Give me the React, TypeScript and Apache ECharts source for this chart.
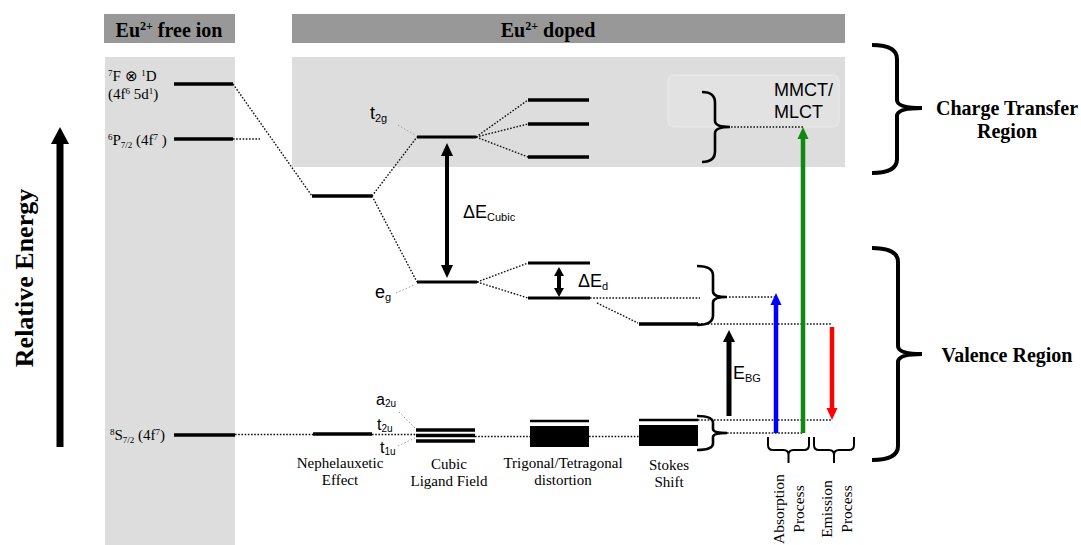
import React, { useEffect, useRef } from "react";
import * as echarts from "echarts";

const SERIF = "'Liberation Serif', 'Times New Roman', serif";
const SANS = "'Liberation Sans', Arial, Helvetica, sans-serif";

// Diagram units: x = horizontal position across the diagram, e = relative energy (0 = bottom, 545 = top)

const panels = [
  { name: "free ion header", x1: 104, x2: 235, top: 531, bottom: 502, kind: "header" },
  { name: "doped header", x1: 292, x2: 845, top: 531, bottom: 502, kind: "header" },
  { name: "free ion column", x1: 105, x2: 235, top: 488, bottom: 0, kind: "band" },
  { name: "charge transfer band", x1: 292, x2: 845, top: 488, bottom: 378, kind: "band" },
  { name: "MMCT box", x1: 668, x2: 839, top: 470, bottom: 418, kind: "box" },
];

const levels = [
  { name: "7F x 1D (4f6 5d1)", x1: 174, x2: 233, e: 461, kind: "main" },
  { name: "6P7/2 (4f7)", x1: 174, x2: 233, e: 406, kind: "main" },
  { name: "8S7/2 (4f7)", x1: 174, x2: 235, e: 110, kind: "main" },
  { name: "5d nephelauxetic", x1: 312, x2: 372, e: 349, kind: "main" },
  { name: "4f nephelauxetic", x1: 313, x2: 372, e: 111, kind: "main" },
  { name: "t2g", x1: 417, x2: 476, e: 408, kind: "mid" },
  { name: "eg", x1: 417, x2: 477, e: 263, kind: "mid" },
  { name: "a2u", x1: 416, x2: 475, e: 115, kind: "stripe" },
  { name: "t2u", x1: 416, x2: 475, e: 109.5, kind: "stripe" },
  { name: "t1u", x1: 416, x2: 475, e: 104, kind: "stripe" },
  { name: "t2g split 1", x1: 528, x2: 589, e: 445, kind: "main" },
  { name: "t2g split 2", x1: 528, x2: 589, e: 421, kind: "main" },
  { name: "t2g split 3", x1: 528, x2: 589, e: 388, kind: "main" },
  { name: "eg split 1", x1: 528, x2: 590, e: 282, kind: "mid" },
  { name: "eg split 2", x1: 528, x2: 590, e: 247, kind: "mid" },
  { name: "4f distorted top", x1: 530, x2: 589, e: 124, kind: "thin" },
  { name: "5d relaxed (Stokes)", x1: 639, x2: 698, e: 221, kind: "main" },
  { name: "4f Stokes top", x1: 639, x2: 698, e: 125, kind: "thin" },
];

const blocks = [
  { name: "4f distorted manifold", x1: 530, x2: 589, top: 119, bottom: 98 },
  { name: "4f Stokes manifold", x1: 639, x2: 698, top: 120, bottom: 99 },
];

const connectors = [
  [233, 406, 260, 406],
  [233, 461, 312, 349],
  [235, 110.5, 313, 110.5],
  [372, 349, 417, 408],
  [372, 349, 417, 263],
  [372, 110.5, 416, 110.5],
  [476, 408, 528, 445],
  [476, 408, 528, 421],
  [476, 408, 528, 388],
  [477, 263, 528, 282],
  [477, 263, 528, 247],
  [475, 108.5, 530, 108.5],
  [589, 108.5, 639, 108.5],
  [590, 247, 700, 247],
  [597, 242, 638, 222],
  [729, 248, 776, 248],
  [698, 221, 832, 221],
  [698, 125, 832, 125],
  [727, 112, 803, 112],
  [731, 418, 803, 418],
];

const leaders = [
  [398, 420, 415, 410],
  [396, 252, 414, 260],
  [399, 133, 415, 117],
  [398, 99, 415, 107],
];

const arrows = [
  { name: "relative energy", x: 60, from: 98, to: 418, kind: "axis", color: "#000000" },
  { name: "dE cubic", x: 447, from: 402, to: 267, kind: "gapDouble", color: "#000000" },
  { name: "dE d", x: 559, from: 278, to: 248, kind: "gapSmall", color: "#000000" },
  { name: "E BG", x: 729, from: 129, to: 215, kind: "gap", color: "#000000" },
  { name: "absorption", x: 776, from: 112, to: 252, kind: "transition", color: "#0000ff" },
  { name: "MMCT/MLCT", x: 803, from: 112, to: 418, kind: "transition", color: "#118811" },
  { name: "emission", x: 832, from: 218, to: 125, kind: "transition", color: "#ff0000" },
];

const bracesRight = [
  { name: "charge transfer region", xl: 872, xs: 897, xt: 922, top: 500, bottom: 372, tip: 437 },
  { name: "valence region", xl: 872, xs: 898, xt: 922, top: 297, bottom: 85, tip: 191 },
  { name: "MMCT levels", xl: 702, xs: 715, xt: 730, top: 453, bottom: 383, tip: 418 },
  { name: "5d levels", xl: 697, xs: 713, xt: 727, top: 279, bottom: 220, tip: 248 },
  { name: "4f levels", xl: 697, xs: 713, xt: 727, top: 129, bottom: 95, tip: 112 },
];

const bracesDown = [
  { name: "absorption process", xl: 768, xr: 809, top: 108, mid: 95, tip: 82 },
  { name: "emission process", xl: 814, xr: 854, top: 108, mid: 95, tip: 82 },
];

const labels = [
  { x: 169, e: 515, text: "{n|Eu}{sup|2+}{n| free ion}", kind: "header" },
  { x: 548, e: 515, text: "{n|Eu}{sup|2+}{n| doped}", kind: "header" },
  { x: 108, e: 469, text: "{sup|7}{n|F ⊗ }{sup|1}{n|D}", kind: "term" },
  { x: 108, e: 451, text: "{n|(4f}{sup|6}{n| 5d}{sup|1}{n|)}", kind: "term" },
  { x: 108, e: 405, text: "{sup|6}{n|P}{sub|7/2}{n| (4f}{sup|7}{n| )}", kind: "term" },
  { x: 110, e: 110, text: "{sup|8}{n|S}{sub|7/2}{n| (4f}{sup|7}{n|)}", kind: "term" },
  { x: 370, e: 432, text: "{n|t}{sub|2g}", kind: "orbital" },
  { x: 375, e: 253, text: "{n|e}{sub|g}", kind: "orbital" },
  { x: 463, e: 333, text: "{n|ΔE}{sub|Cubic}", kind: "orbital" },
  { x: 578, e: 264, text: "{n|ΔE}{sub|d}", kind: "orbital" },
  { x: 733, e: 172, text: "{n|E}{sub|BG}", kind: "orbital" },
  { x: 376, e: 146, text: "{n|a}{sub|2u}", kind: "orbitalSmall" },
  { x: 377, e: 121, text: "{n|t}{sub|2u}", kind: "orbitalSmall" },
  { x: 380, e: 98, text: "{n|t}{sub|1u}", kind: "orbitalSmall" },
  { x: 774, e: 444, text: "MMCT/\nMLCT", kind: "ct" },
  { x: 340, e: 73.5, text: "Nephelauxetic\nEffect", kind: "stage" },
  { x: 449, e: 73, text: "Cubic\nLigand Field", kind: "stage" },
  { x: 563, e: 73.5, text: "Trigonal/Tetragonal\ndistortion", kind: "stage" },
  { x: 669, e: 71.5, text: "Stokes\nShift", kind: "stage" },
  { x: 1007, e: 425.5, text: "Charge Transfer\nRegion", kind: "region" },
  { x: 1007, e: 190, text: "Valence Region", kind: "region" },
  { x: 24, e: 267, text: "Relative Energy", kind: "axis" },
  { x: 788, e: 36, text: "Absorption\nProcess", kind: "process" },
  { x: 836, e: 36, text: "Emission\nProcess", kind: "process" },
];

// ---------- styles ----------
const panelStyle: any = {
  header: { fill: "#989898" },
  band: { fill: "#dddddd" },
  box: { fill: "#e2e2e2", stroke: "#ebebeb", r: 6 },
};
const levelWidth: any = { main: 3.5, mid: 3, stripe: 3.5, thin: 2.5 };
const arrowStyle: any = {
  axis: { w: 7, hw: 18, hl: 17, double: false },
  gapDouble: { w: 4, hw: 12, hl: 13, double: true },
  gapSmall: { w: 4, hw: 10, hl: 9, double: true },
  gap: { w: 5, hw: 12, hl: 12, double: false },
  transition: { w: 4.5, hw: 11, hl: 12, double: false },
};

function rich(family: string, S: number, weight: string, subPad: number) {
  const s = Math.round(S * 0.62);
  const base = { fontFamily: family, fontWeight: weight, fill: "#000", color: "#000", verticalAlign: "top" };
  return {
    n: { ...base, fontSize: S, lineHeight: S, padding: [0, 0, 0, 0] },
    sup: { ...base, fontSize: s, lineHeight: s, padding: [0, 0, 0, 0] },
    sub: { ...base, fontSize: s, lineHeight: s, padding: [Math.round(S * subPad), 0, 0, 0] },
  };
}

const labelStyle: any = {
  header: { rich: rich(SERIF, 20, "bold", 0.5), align: "center" },
  term: { rich: rich(SERIF, 15, "normal", 0.5), align: "left" },
  orbital: { rich: rich(SANS, 18, "normal", 0.45), align: "left" },
  orbitalSmall: { rich: rich(SANS, 16, "normal", 0.45), align: "left" },
  ct: { family: SANS, size: 18, weight: "normal", lh: 22, align: "left" },
  stage: { family: SERIF, size: 15, weight: "normal", lh: 17, align: "center" },
  region: { family: SERIF, size: 20, weight: "bold", lh: 23, align: "center" },
  axis: { family: SERIF, size: 26, weight: "bold", lh: 30, align: "center", rot: Math.PI / 2 },
  process: { family: SERIF, size: 15.5, weight: "normal", lh: 20, align: "center", rot: Math.PI / 2 },
};

function buildOption() {
  const custom = (name: string, arr: any[], z: number, toPoint: (d: any) => number[], render: any) => ({
    type: "custom",
    name,
    coordinateSystem: "cartesian2d",
    silent: true,
    z,
    clip: false,
    data: arr.map(toPoint),
    encode: { x: 0, y: 1 },
    renderItem: render,
  });

  return {
    animation: false,
    grid: { left: 0, top: 0, right: 0, bottom: 0 },
    xAxis: { type: "value", min: 0, max: 1081, show: false },
    yAxis: { type: "value", min: 0, max: 545, show: false },
    series: [
      custom("panels", panels, 1, (p) => [p.x1, p.top], (params: any, api: any) => {
        const p = panels[params.dataIndex];
        const st = panelStyle[p.kind];
        const a = api.coord([p.x1, p.top]);
        const b = api.coord([p.x2, p.bottom]);
        return {
          type: "rect",
          shape: { x: a[0], y: a[1], width: b[0] - a[0], height: b[1] - a[1], r: st.r || 0 },
          style: { fill: st.fill, stroke: st.stroke || null, lineWidth: 1 },
        };
      }),
      custom("leaders", leaders, 2, (c) => [c[0], c[1]], (params: any, api: any) => {
        const c = leaders[params.dataIndex];
        const a = api.coord([c[0], c[1]]);
        const b = api.coord([c[2], c[3]]);
        return {
          type: "line",
          shape: { x1: a[0], y1: a[1], x2: b[0], y2: b[1] },
          style: { stroke: "#9a9a9a", lineWidth: 1, lineDash: [1.5, 2] },
        };
      }),
      custom("connectors", connectors, 3, (c) => [c[0], c[1]], (params: any, api: any) => {
        const c = connectors[params.dataIndex];
        const a = api.coord([c[0], c[1]]);
        const b = api.coord([c[2], c[3]]);
        return {
          type: "line",
          shape: { x1: a[0], y1: a[1], x2: b[0], y2: b[1] },
          style: { stroke: "#111", lineWidth: 1.4, lineDash: [1.6, 1.6] },
        };
      }),
      custom("levels", levels, 4, (l) => [l.x1, l.e], (params: any, api: any) => {
        const l = levels[params.dataIndex];
        const a = api.coord([l.x1, l.e]);
        const b = api.coord([l.x2, l.e]);
        return {
          type: "line",
          shape: { x1: a[0], y1: a[1], x2: b[0], y2: b[1] },
          style: { stroke: "#000", lineWidth: levelWidth[l.kind] },
        };
      }),
      custom("blocks", blocks, 4, (b) => [b.x1, b.top], (params: any, api: any) => {
        const k = blocks[params.dataIndex];
        const a = api.coord([k.x1, k.top]);
        const b = api.coord([k.x2, k.bottom]);
        return {
          type: "rect",
          shape: { x: a[0], y: a[1], width: b[0] - a[0], height: b[1] - a[1] },
          style: { fill: "#000" },
        };
      }),
      custom("arrows", arrows, 5, (a) => [a.x, a.from], (params: any, api: any) => {
        const ar = arrows[params.dataIndex];
        const st = arrowStyle[ar.kind];
        const p0 = api.coord([ar.x, ar.from]);
        const p1 = api.coord([ar.x, ar.to]);
        const dir = p1[1] > p0[1] ? 1 : -1;
        const x = p0[0];
        const y0 = st.double ? p0[1] + dir * st.hl * 0.9 : p0[1];
        const y1 = p1[1] - dir * st.hl * 0.9;
        const head = (tipY: number, d: number) => ({
          type: "polygon",
          shape: {
            points: [
              [x, tipY],
              [x - st.hw / 2, tipY - d * st.hl],
              [x + st.hw / 2, tipY - d * st.hl],
            ],
          },
          style: { fill: ar.color },
        });
        const children: any[] = [
          { type: "line", shape: { x1: x, y1: y0, x2: x, y2: y1 }, style: { stroke: ar.color, lineWidth: st.w } },
          head(p1[1], dir),
        ];
        if (st.double) children.push(head(p0[1], -dir));
        return { type: "group", children };
      }),
      custom("bracesRight", bracesRight, 5, (b) => [b.xl, b.top], (params: any, api: any) => {
        const b = bracesRight[params.dataIndex];
        const xl = api.coord([b.xl, 0])[0];
        const xs = api.coord([b.xs, 0])[0];
        const xt = api.coord([b.xt, 0])[0];
        const yt = api.coord([0, b.top])[1];
        const yb = api.coord([0, b.bottom])[1];
        const ym = api.coord([0, b.tip])[1];
        const h = yb - yt;
        const rv = Math.min(14, h * 0.11 + 3);
        const c = Math.min(8, h * 0.06 + 2);
        const d =
          `M${xl} ${yt} Q${xs} ${yt} ${xs} ${yt + rv} L${xs} ${ym - c} Q${xs} ${ym} ${xt} ${ym} ` +
          `M${xt} ${ym} Q${xs} ${ym} ${xs} ${ym + c} L${xs} ${yb - rv} Q${xs} ${yb} ${xl} ${yb}`;
        return {
          type: "path",
          shape: { pathData: d },
          style: { stroke: "#000", fill: "none", lineWidth: h > 100 ? 4 : 2.6 },
        };
      }),
      custom("bracesDown", bracesDown, 5, (b) => [b.xl, b.top], (params: any, api: any) => {
        const b = bracesDown[params.dataIndex];
        const xl = api.coord([b.xl, 0])[0];
        const xr = api.coord([b.xr, 0])[0];
        const xc = (xl + xr) / 2;
        const yt = api.coord([0, b.top])[1];
        const ym = api.coord([0, b.mid])[1];
        const yp = api.coord([0, b.tip])[1];
        const r = 5;
        const d =
          `M${xl} ${yt} L${xl} ${ym - r} Q${xl} ${ym} ${xl + r} ${ym} L${xc - r} ${ym} Q${xc} ${ym} ${xc} ${ym + r} L${xc} ${yp} ` +
          `M${xc} ${ym + r} Q${xc} ${ym} ${xc + r} ${ym} L${xr - r} ${ym} Q${xr} ${ym} ${xr} ${ym - r} L${xr} ${yt}`;
        return {
          type: "path",
          shape: { pathData: d },
          style: { stroke: "#000", fill: "none", lineWidth: 2 },
        };
      }),
      custom("labels", labels, 6, (l) => [l.x, l.e], (params: any, api: any) => {
        const l = labels[params.dataIndex];
        const st = labelStyle[l.kind];
        const p = api.coord([l.x, l.e]);
        const style: any = {
          text: l.text,
          fill: "#000",
          align: st.align,
          textAlign: st.align,
          verticalAlign: "middle",
          textVerticalAlign: "middle",
        };
        if (st.rich) {
          style.rich = st.rich;
        } else {
          style.fontFamily = st.family;
          style.fontSize = st.size;
          style.fontWeight = st.weight;
          style.lineHeight = st.lh;
        }
        return { type: "text", x: p[0], y: p[1], rotation: st.rot || 0, style };
      }),
    ],
  };
}

export default function App() {
  const ref = useRef<HTMLDivElement>(null);
  useEffect(() => {
    document.body.style.margin = "0";
    if (!ref.current) return;
    const chart = echarts.init(ref.current, undefined, { renderer: "svg" });
    chart.setOption(buildOption() as any);
    return () => chart.dispose();
  }, []);
  return <div ref={ref} style={{ width: 1081, height: 545, background: "#fff" }} />;
}
